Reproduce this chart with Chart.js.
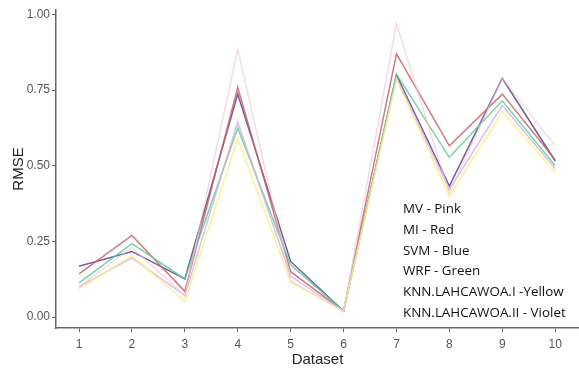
<!DOCTYPE html>
<html lang="en">
<head>
  <meta charset="UTF-8">
  <title>RMSE by Dataset</title>
  <script src="https://cdn.jsdelivr.net/npm/chart.js"></script>
  <style>
    body { margin: 0; background: #fff; }
    #wrap { position: relative; width: 579px; height: 370px; }
    #notes {
      position: absolute; left: 403px; top: 198px;
      font-family: "Open Sans", sans-serif; font-size: 13.4px;
      line-height: 20.8px; color: #111;
    }
  </style>
</head>
<body>
  <div id="wrap">
    <canvas id="rmseChart" width="579" height="370"></canvas>
    <div id="notes">
      MV - Pink<br>
      MI - Red<br>
      SVM - Blue<br>
      WRF - Green<br>
      KNN.LAHCAWOA.I -Yellow<br>
      KNN.LAHCAWOA.II - Violet
    </div>
  </div>

  <script>
    // Data
    const datasets = [1, 2, 3, 4, 5, 6, 7, 8, 9, 10];
    const yTicks = [0, 0.25, 0.5, 0.75, 1];

    const mv     = [0.100, 0.230, 0.070, 0.886, 0.120, 0.020, 0.970, 0.410, 0.790, 0.566];
    const mi     = [0.143, 0.270, 0.085, 0.759, 0.150, 0.020, 0.870, 0.566, 0.737, 0.520];
    const svm    = [0.168, 0.217, 0.126, 0.737, 0.184, 0.020, 0.800, 0.433, 0.789, 0.516];
    const wrf    = [0.113, 0.243, 0.126, 0.625, 0.173, 0.020, 0.803, 0.528, 0.715, 0.500];
    const knn1   = [0.093, 0.203, 0.052, 0.590, 0.115, 0.020, 0.786, 0.400, 0.678, 0.478];
    const knn2   = [0.100, 0.196, 0.071, 0.645, 0.135, 0.020, 0.790, 0.422, 0.700, 0.490];

    const toPoints = vals => vals.map((v, i) => ({ x: datasets[i], y: v }));

    function series(label, vals, color) {
      return {
        label: label,
        data: toPoints(vals),
        borderColor: color,
        borderWidth: 1.5,
        pointRadius: 0,
        tension: 0,
        fill: false
      };
    }

    const tickFont = { family: "'Liberation Sans', Arial, sans-serif", size: 12 };
    const titleFont = { family: "'Liberation Sans', Arial, sans-serif", size: 15 };

    const ctx = document.getElementById('rmseChart').getContext('2d');
    new Chart(ctx, {
      type: 'line',
      data: {
        datasets: [
          series('MV', mv, 'rgba(238, 195, 210, 0.6)'),
          series('KNN.LAHCAWOA.I', knn1, 'rgba(250, 238, 130, 0.85)'),
          series('KNN.LAHCAWOA.II', knn2, 'rgba(210, 175, 228, 0.8)'),
          series('WRF', wrf, 'rgba(95, 205, 150, 0.85)'),
          series('MI', mi, 'rgba(205, 95, 105, 0.85)'),
          series('SVM', svm, 'rgba(85, 65, 135, 0.85)')
        ]
      },
      options: {
        responsive: false,
        animation: false,
        layout: { padding: { top: 10, right: 0, left: 0, bottom: 0 } },
        plugins: {
          legend: { display: false },
          tooltip: { enabled: false }
        },
        scales: {
          x: {
            type: 'linear',
            min: 0.565,
            max: 10.45,
            afterBuildTicks: s => { s.ticks = datasets.map(v => ({ value: v })); },
            afterFit: s => { s.height = 42; },
            grid: { drawOnChartArea: false, drawTicks: true, tickLength: 4, color: '#666' },
            border: { display: true, color: '#666', width: 1.5 },
            ticks: { color: '#555', font: tickFont, padding: 5, maxRotation: 0 },
            title: { display: true, text: 'Dataset', color: '#222', font: titleFont, padding: { top: 0, bottom: 1 } }
          },
          y: {
            min: -0.036,
            max: 1.015,
            afterBuildTicks: s => { s.ticks = yTicks.map(v => ({ value: v })); },
            afterFit: s => { s.width = 56; },
            grid: { drawOnChartArea: false, drawTicks: true, tickLength: 4, color: '#666' },
            border: { display: true, color: '#666', width: 1.5 },
            ticks: { color: '#555', font: tickFont, padding: 2, callback: v => v.toFixed(2) },
            title: { display: true, text: 'RMSE', color: '#222', font: titleFont, padding: { top: 10, bottom: 0 } }
          }
        }
      }
    });
  </script>
</body>
</html>
